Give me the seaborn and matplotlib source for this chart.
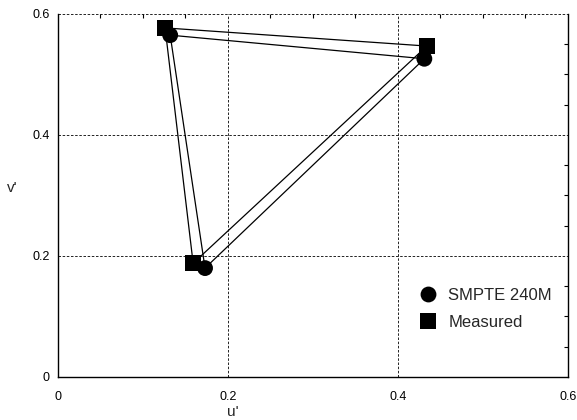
import numpy as np
import pandas as pd
import seaborn as sns
import matplotlib.pyplot as plt
from matplotlib.ticker import MultipleLocator

# chromaticity points (u', v')
smpte_u = [0.431, 0.132, 0.173]
smpte_v = [0.526, 0.565, 0.180]
meas_u = [0.434, 0.126, 0.159]
meas_v = [0.547, 0.577, 0.188]
labels = ['SMPTE 240M', 'Measured']

sns.set_style('white')
plt.rcParams['font.family'] = ['Liberation Sans', 'DejaVu Sans']

df = pd.DataFrame({
    'u': smpte_u + meas_u,
    'v': smpte_v + meas_v,
    'set': [labels[0]] * 3 + [labels[1]] * 3,
})

fig = plt.figure(figsize=(5.77, 4.2), dpi=100)
ax = fig.add_axes([0.1005, 0.1024, 0.8839, 0.8643])

# closed triangles
for name in labels:
    sub = df[df['set'] == name]
    uu = list(sub['u']) + [sub['u'].iloc[0]]
    vv = list(sub['v']) + [sub['v'].iloc[0]]
    ax.plot(uu, vv, color='black', lw=0.9, zorder=2)

sns.scatterplot(data=df, x='u', y='v', style='set', markers={labels[0]: 'o', labels[1]: 's'},
                color='black', s=130, edgecolor='black', linewidth=0, ax=ax, zorder=3)

ax.set_xlim(0, 0.6)
ax.set_ylim(0, 0.6)
ax.set_xticks([0, 0.2, 0.4, 0.6])
ax.set_yticks([0, 0.2, 0.4, 0.6])
ax.set_xticklabels(['0', '0.2', '0.4', '0.6'])
ax.set_yticklabels(['0', '0.2', '0.4', '0.6'])
ax.xaxis.set_minor_locator(MultipleLocator(0.05))
ax.yaxis.set_minor_locator(MultipleLocator(0.05))
ax.tick_params(which='both', direction='in', top=True, right=True, labelsize=9, colors='black')
ax.tick_params(which='major', length=0)
ax.tick_params(axis='x', which='major', pad=10)
ax.tick_params(axis='y', which='major', pad=6)
ax.tick_params(which='minor', length=3, width=0.8)
ax.grid(True, which='major', color='black', linestyle=(0, (3, 2)), lw=0.6)
ax.set_axisbelow(True)

for side in ['left', 'bottom', 'right']:
    ax.spines[side].set_color('black')
    ax.spines[side].set_linewidth(1.0)
ax.spines['top'].set_visible(False)

ax.set_xlabel("u'", fontsize=11)
ax.set_ylabel("v'", fontsize=11, rotation=0)
ax.xaxis.set_label_coords(0.343, -0.078)
ax.yaxis.set_label_coords(-0.09, 0.5)

leg = ax.legend(loc='upper left', bbox_to_anchor=(0.68, 0.287), frameon=False, fontsize=12,
                handlelength=1.0, handletextpad=0.7, labelspacing=0.72, markerscale=1.0)

fig.savefig('out.png', dpi=100)
